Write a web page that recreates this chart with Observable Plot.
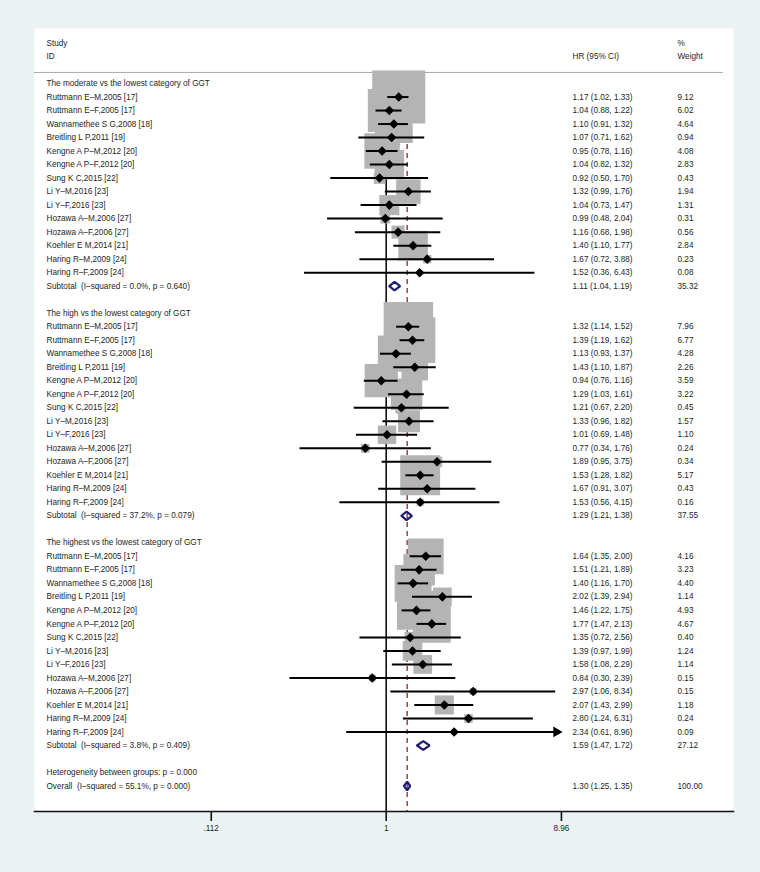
<!DOCTYPE html>
<html>
<head>
<meta charset="utf-8">
<script src="https://cdn.jsdelivr.net/npm/d3@7"></script>
<script src="https://cdn.jsdelivr.net/npm/@observablehq/plot@0.6"></script>
<style>
  html, body { margin: 0; padding: 0; background: #eaf2f3; }
</style>
</head>
<body>
<div id="chart"></div>
<script>
// ---- data ----
const studies = [
  "Ruttmann E–M,2005 [17]", "Ruttmann E–F,2005 [17]", "Wannamethee S G,2008 [18]",
  "Breitling L P,2011 [19]", "Kengne A P–M,2012 [20]", "Kengne A P–F,2012 [20]",
  "Sung K C,2015 [22]", "Li Y–M,2016 [23]", "Li Y–F,2016 [23]",
  "Hozawa A–M,2006 [27]", "Hozawa A–F,2006 [27]", "Koehler E M,2014 [21]",
  "Haring R–M,2009 [24]", "Haring R–F,2009 [24]"
];
const groupTitles = [
  "The moderate vs the lowest category of GGT",
  "The high vs the lowest category of GGT",
  "The highest vs the lowest category of GGT"
];
const hrModerate = [1.17, 1.04, 1.10, 1.07, 0.95, 1.04, 0.92, 1.32, 1.04, 0.99, 1.16, 1.40, 1.67, 1.52];
const loModerate = [1.02, 0.88, 0.91, 0.71, 0.78, 0.82, 0.50, 0.99, 0.73, 0.48, 0.68, 1.10, 0.72, 0.36];
const hiModerate = [1.33, 1.22, 1.32, 1.62, 1.16, 1.32, 1.70, 1.76, 1.47, 2.04, 1.98, 1.77, 3.88, 6.43];
const wModerate  = [9.12, 6.02, 4.64, 0.94, 4.08, 2.83, 0.43, 1.94, 1.31, 0.31, 0.56, 2.84, 0.23, 0.08];

const hrHigh = [1.32, 1.39, 1.13, 1.43, 0.94, 1.29, 1.21, 1.33, 1.01, 0.77, 1.89, 1.53, 1.67, 1.53];
const loHigh = [1.14, 1.19, 0.93, 1.10, 0.76, 1.03, 0.67, 0.96, 0.69, 0.34, 0.95, 1.28, 0.91, 0.56];
const hiHigh = [1.52, 1.62, 1.37, 1.87, 1.16, 1.61, 2.20, 1.82, 1.48, 1.76, 3.75, 1.82, 3.07, 4.15];
const wHigh  = [7.96, 6.77, 4.28, 2.26, 3.59, 3.22, 0.45, 1.57, 1.10, 0.24, 0.34, 5.17, 0.43, 0.16];

const hrHighest = [1.64, 1.51, 1.40, 2.02, 1.46, 1.77, 1.35, 1.39, 1.58, 0.84, 2.97, 2.07, 2.80, 2.34];
const loHighest = [1.35, 1.21, 1.16, 1.39, 1.22, 1.47, 0.72, 0.97, 1.08, 0.30, 1.06, 1.43, 1.24, 0.61];
const hiHighest = [2.00, 1.89, 1.70, 2.94, 1.75, 2.13, 2.56, 1.99, 2.29, 2.39, 8.34, 2.99, 6.31, 8.96];
const wHighest  = [4.16, 3.23, 4.40, 1.14, 4.93, 4.67, 0.40, 1.24, 1.14, 0.15, 0.15, 1.18, 0.24, 0.09];

const subLabels = [
  "Subtotal  (I–squared = 0.0%, p = 0.640)",
  "Subtotal  (I–squared = 37.2%, p = 0.079)",
  "Subtotal  (I–squared = 3.8%, p = 0.409)"
];
const subHr = [1.11, 1.29, 1.59];
const subLo = [1.04, 1.21, 1.47];
const subHi = [1.19, 1.38, 1.72];
const subW  = [35.32, 37.55, 27.12];

const hetLabel = "Heterogeneity between groups: p = 0.000";
const overallLabel = "Overall  (I–squared = 55.1%, p = 0.000)";
const overallHr = 1.30, overallLo = 1.25, overallHi = 1.35, overallW = 100.00;

const xTicks = [0.112, 1, 8.96];
const xTickLabels = [".112", "1", "8.96"];
const headerLeft = ["Study", "ID"];
const headerHR = "HR (95% CI)";
const headerWeight = ["%", "Weight"];

// ---- build table ----
const groups = [
  [hrModerate, loModerate, hiModerate, wModerate],
  [hrHigh, loHigh, hiHigh, wHigh],
  [hrHighest, loHighest, hiHighest, wHighest]
];
const rowsPerGroup = studies.length + 3; // title, studies, subtotal, blank
const studyRows = [];
const labelRows = [];
const summaryRows = [];
groups.forEach(([hr, lo, hi, w], g) => {
  const base = g * rowsPerGroup;
  labelRows.push({row: base, label: groupTitles[g]});
  studies.forEach((s, i) => {
    const row = base + 1 + i;
    studyRows.push({row, label: s, hr: hr[i], lo: lo[i], hi: hi[i], w: w[i]});
    labelRows.push({row, label: s});
  });
  const srow = base + 1 + studies.length;
  summaryRows.push({id: "g" + g, row: srow, hr: subHr[g], lo: subLo[g], hi: subHi[g], w: subW[g]});
  labelRows.push({row: srow, label: subLabels[g]});
});
const hetRow = groups.length * rowsPerGroup;
labelRows.push({row: hetRow, label: hetLabel});
labelRows.push({row: hetRow + 1, label: overallLabel});
summaryRows.push({id: "overall", row: hetRow + 1, hr: overallHr, lo: overallLo, hi: overallHi, w: overallW});

const numRows = [...studyRows, ...summaryRows].map(d => ({
  row: d.row,
  ci: `${d.hr.toFixed(2)} (${d.lo.toFixed(2)}, ${d.hi.toFixed(2)})`,
  w: d.w.toFixed(2)
}));

const dh = 0.32; // diamond half-height in rows
const diamondPts = summaryRows.flatMap(d => [
  {id: d.id, x: d.lo, y: d.row},
  {id: d.id, x: d.hr, y: d.row - dh},
  {id: d.id, x: d.hi, y: d.row},
  {id: d.id, x: d.hr, y: d.row + dh},
  {id: d.id, x: d.lo, y: d.row}
]);

const xMax = d3.max(xTicks);
const ticks = xTicks.map((v, i) => ({v, label: xTickLabels[i]}));
const font = "Liberation Sans, Arial, Helvetica, sans-serif";
const fs = 8.2;
const txt = "#1e1e1e";

const chart = Plot.plot({
  width: 760,
  height: 872,
  marginLeft: 34,
  marginRight: 27,
  marginTop: 28,
  marginBottom: 61,
  style: {background: "#eaf2f3", fontFamily: font, fontSize: fs + "px", color: txt},
  x: {type: "log", domain: [0.1, 10], range: [201.7, 569.7], label: null, axis: null},
  y: {domain: [-3, 52], range: [42.5, 785.5], axis: null},
  r: {type: "sqrt", domain: [0, 9.12], range: [0, 29.9]},
  marks: [
    Plot.frame({fill: "white", stroke: null}),
    Plot.ruleY([-0.82], {stroke: "#a8a8a8", strokeWidth: 1, insetRight: 10}),
    Plot.ruleX([1], {insetTop: 44, stroke: "#111", strokeWidth: 1.6}),
    Plot.ruleX([overallHr], {insetTop: 44, stroke: "#8c2232", strokeWidth: 1.3, strokeDasharray: "5,4"}),
    Plot.dot(studyRows, {x: "hr", y: "row", r: "w", symbol: "square", fill: "#b4b4b4", stroke: null}),
    Plot.ruleY(studyRows, {y: "row", x1: "lo", x2: "hi", stroke: "black", strokeWidth: 2}),
    Plot.dot(studyRows, {x: "hr", y: "row", symbol: "diamond2", r: 4.3, fill: "black", stroke: null}),
    Plot.dot(studyRows.filter(d => d.hi >= xMax), {x: "hi", y: "row", symbol: "triangle", rotate: 90, r: 4, dx: -5, fill: "black", stroke: null}),
    Plot.line(diamondPts, {x: "x", y: "y", z: "id", stroke: "#1c1c70", strokeWidth: 2.2, strokeLinejoin: "miter"}),
    // left labels
    Plot.text(labelRows, {y: "row", text: "label", frameAnchor: "left", dx: 12, textAnchor: "start", fontSize: fs, fill: txt}),
    Plot.text(headerLeft, {y: (d, i) => -3 + i, text: d => d, frameAnchor: "left", dx: 12, textAnchor: "start", fontSize: fs, fill: txt}),
    // HR column
    Plot.text(numRows, {y: "row", text: "ci", frameAnchor: "right", dx: -161, textAnchor: "start", fontSize: fs, fill: txt}),
    Plot.text([headerHR], {y: -2, text: d => d, frameAnchor: "right", dx: -161, textAnchor: "start", fontSize: fs, fill: txt}),
    // Weight column
    Plot.text(numRows, {y: "row", text: "w", frameAnchor: "right", dx: -56, textAnchor: "start", fontSize: fs, fill: txt}),
    Plot.text(headerWeight, {y: (d, i) => -3 + i, text: d => d, frameAnchor: "right", dx: -56, textAnchor: "start", fontSize: fs, fill: txt}),
    // axis
    Plot.ruleX(ticks, {x: "v", insetTop: 783, insetBottom: -10, stroke: "#111", strokeWidth: 1.6}),
    Plot.text(ticks, {x: "v", text: "label", frameAnchor: "bottom", dy: 19, fontSize: fs, fill: txt}),
    Plot.frame({anchor: "bottom", stroke: "#111", strokeWidth: 1.6})
  ]
});
document.getElementById("chart").appendChild(chart);
</script>
</body>
</html>
